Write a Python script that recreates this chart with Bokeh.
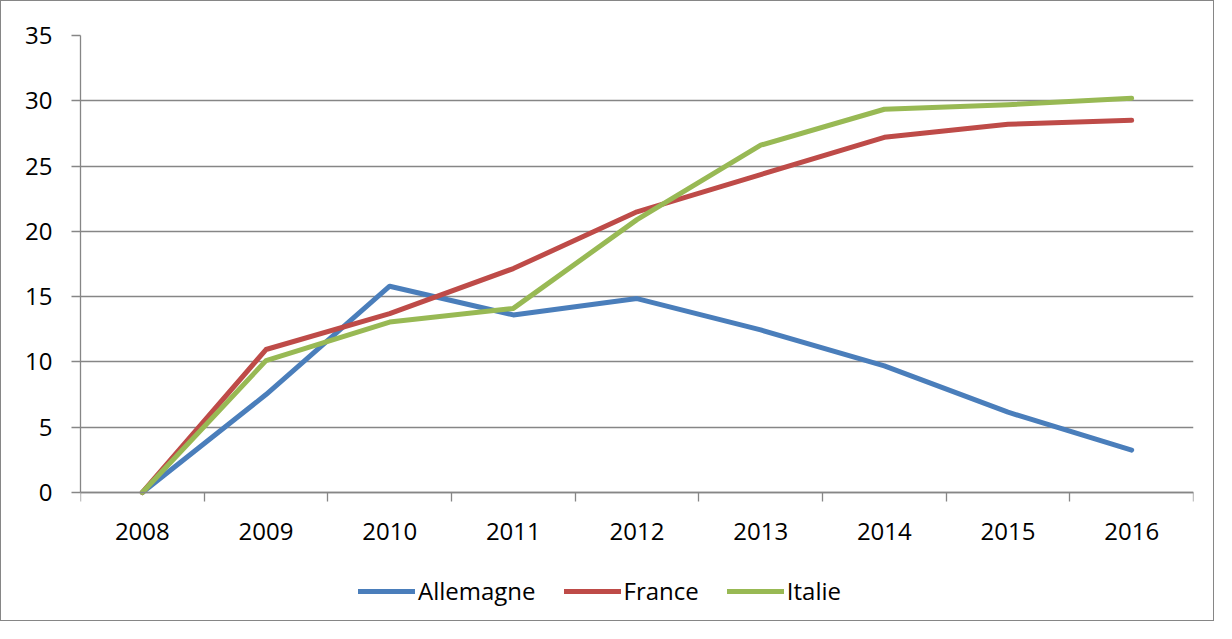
from bokeh.plotting import figure
from bokeh.models import Range1d, FixedTicker, Legend, LegendItem
from bokeh.embed import file_html
from bokeh.resources import INLINE

years = ["2008", "2009", "2010", "2011", "2012", "2013", "2014", "2015", "2016"]
allemagne = [0, 7.5, 15.8, 13.6, 14.85, 12.45, 9.7, 6.15, 3.25]
france = [0, 10.95, 13.7, 17.15, 21.5, 24.35, 27.2, 28.2, 28.5]
italie = [0, 10.1, 13.05, 14.1, 20.9, 26.6, 29.35, 29.7, 30.2]
y_ticks = [0, 5, 10, 15, 20, 25, 30, 35]
y_min, y_max = 0, 35

FONT = "Open Sans"
GRID = "#868686"

W, H = 1214, 621
TOP, LEFT, RIGHT, BOTTOM = 34, 79, 22, 0
AXIS_Y = 491  # pixel row of the value axis minimum
px_per_unit = (AXIS_Y - TOP) / (y_max - y_min)
frame_h = H - TOP - BOTTOM
y_start = y_max - frame_h / px_per_unit

x_idx = list(range(len(years)))

p = figure(width=W, height=H, output_backend="svg", toolbar_location=None,
           x_range=Range1d(-0.5, len(years) - 0.5), y_range=Range1d(y_start, y_max),
           min_border_left=LEFT, min_border_right=RIGHT, min_border_top=TOP,
           min_border_bottom=BOTTOM)
p.styles = {"border": "1px solid #868686"}
p.outline_line_color = None
p.background_fill_color = "white"
p.border_fill_color = "white"

# x axis: labels at category centres, tick marks at boundaries
xa = p.xaxis[0]
xa.fixed_location = y_min
xa.ticker = FixedTicker(ticks=x_idx, minor_ticks=[i - 0.5 for i in range(len(years) + 1)])
xa.major_label_overrides = {i: y for i, y in enumerate(years)}
xa.major_tick_out = 0
xa.major_tick_in = 0
xa.minor_tick_out = 9
xa.minor_tick_in = 0
xa.minor_tick_line_color = GRID
xa.minor_tick_line_width = 1.3
xa.axis_line_color = GRID
xa.axis_line_width = 1.3
xa.major_label_standoff = 21
xa.major_label_text_font = FONT
xa.major_label_text_font_size = "24px"
xa.major_label_text_color = "black"

ya = p.yaxis[0]
ya.bounds = (y_min, y_max)
ya.ticker = FixedTicker(ticks=y_ticks, minor_ticks=[])
ya.major_tick_out = 9
ya.major_tick_in = 0
ya.major_tick_line_color = GRID
ya.major_tick_line_width = 1.3
ya.axis_line_color = GRID
ya.axis_line_width = 1.3
ya.major_label_standoff = 19
ya.major_label_text_font = FONT
ya.major_label_text_font_size = "24px"
ya.major_label_text_color = "black"

p.xgrid.visible = False
p.ygrid.ticker = FixedTicker(ticks=y_ticks, minor_ticks=[])
p.ygrid.grid_line_color = GRID
p.ygrid.grid_line_width = 1.3

r1 = p.line(x_idx, allemagne, line_width=5, color="#4A7EBB", line_cap="round", line_join="round")
r2 = p.line(x_idx, france, line_width=5, color="#BE4B48", line_cap="round", line_join="round")
r3 = p.line(x_idx, italie, line_width=5, color="#98B954", line_cap="round", line_join="round")

legend = Legend(items=[LegendItem(label="Allemagne", renderers=[r1]),
                       LegendItem(label="France", renderers=[r2]),
                       LegendItem(label="Italie", renderers=[r3])],
                location=(278, 15), orientation="horizontal",
                glyph_width=57, glyph_height=30, label_height=30,
                label_standoff=3, spacing=28, padding=0, margin=0,
                border_line_color=None, background_fill_color=None,
                background_fill_alpha=0,
                label_text_font=FONT, label_text_font_size="24px",
                label_text_color="black")
p.add_layout(legend, "center")

open("out.html", "w").write(file_html(p, INLINE))
